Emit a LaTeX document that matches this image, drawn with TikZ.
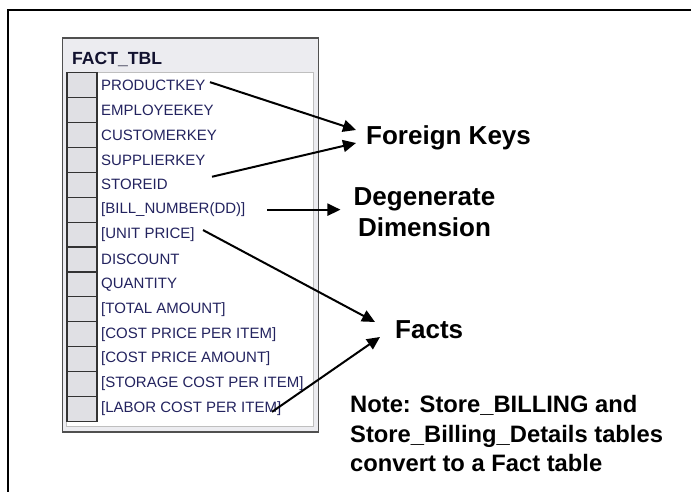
\documentclass[tikz,border=0pt]{standalone}
\usepackage{fontspec}
\setmainfont{Liberation Sans}
\usepackage{tikz}
\usetikzlibrary{calc,arrows.meta}
\definecolor{winbg}{RGB}{236,236,240}
\definecolor{cellbg}{RGB}{224,224,228}
\definecolor{rowtext}{RGB}{35,35,95}
\definecolor{frame}{RGB}{80,80,80}

\begin{document}
\begin{tikzpicture}[x=1pt, y=-1pt,
  rowlabel/.style={anchor=west, inner sep=0pt, text=rowtext, font=\fontsize{15}{15}\selectfont},
  bigtext/.style={inner sep=0pt, font=\fontsize{26}{31}\selectfont\bfseries},
  arr/.style={-{Triangle[length=13pt,width=12pt]}, line width=2pt}]
  \useasboundingbox (0,0) rectangle (691,492);
  % Frame
  \draw[line width=1.5pt] (691,10) -- (8,10) -- (8,492);

  % Table window
  \draw[frame, fill=winbg, line width=1.5pt] (62.5,38) rectangle (318.5,432);
  \draw[gray!50, fill=white] (66,72) rectangle (313,426);
  \node[anchor=base west, inner sep=0pt, text=rowtext!50!black, font=\fontsize{17.6}{18}\selectfont\bfseries] (title) at (72,65) {FACT\_TBL};

  % Columns
  \foreach \name [count=\i] in {PRODUCTKEY, EMPLOYEEKEY, CUSTOMERKEY, SUPPLIERKEY, STOREID,
      {[BILL\_NUMBER(DD)]}, {[UNIT PRICE]}, DISCOUNT, QUANTITY, {[TOTAL AMOUNT]},
      {[COST PRICE PER ITEM]}, {[COST PRICE AMOUNT]}, {[STORAGE COST PER ITEM]}, {[LABOR COST PER ITEM]}}{
    \draw[fill=cellbg, draw=black!80, line width=1.2pt] (67,{72.7+24.9*(\i-1)}) rectangle (97,{72.7+24.9*\i});
    \node[rowlabel] (r\i) at (101,{72.7+24.9*(\i-0.5)}) {\name};
  }

  % Labels
  \node[bigtext, anchor=base west] (fk) at (366,145) {Foreign Keys};
  \node[bigtext, anchor=north, align=center] (dd) at (424.5,187) {Degenerate\\Dimension};
  \node[bigtext, anchor=base west] (facts) at (395,338) {Facts};
  \node[inner sep=0pt, anchor=north west, align=left, font=\fontsize{23.75}{29.5}\selectfont\bfseries] (note) at (350,395.5)
    {Note: Store\_BILLING and\\Store\_Billing\_Details tables\\convert to a Fact table};

  % Arrows
  \draw[arr] ($(r1.west)+(109,-3)$) -- ($(fk.base west)+(-10,-15)$);
  \draw[arr] ($(r5.west)+(111,-8)$) -- ($(fk.base west)+(-10,-2)$);
  \draw[arr] ($(r6.west)+(166,0)$) -- ($(dd.west |- r6.west)+(-13,0)$);
  \draw[arr] ($(r7.west)+(102,-4.5)$) -- ($(facts.base west)+(-20,-16)$);
  \draw[arr] ($(r14.west)+(171,3)$) -- ($(facts.base west)+(-15,-1)$);
\end{tikzpicture}
\end{document}
